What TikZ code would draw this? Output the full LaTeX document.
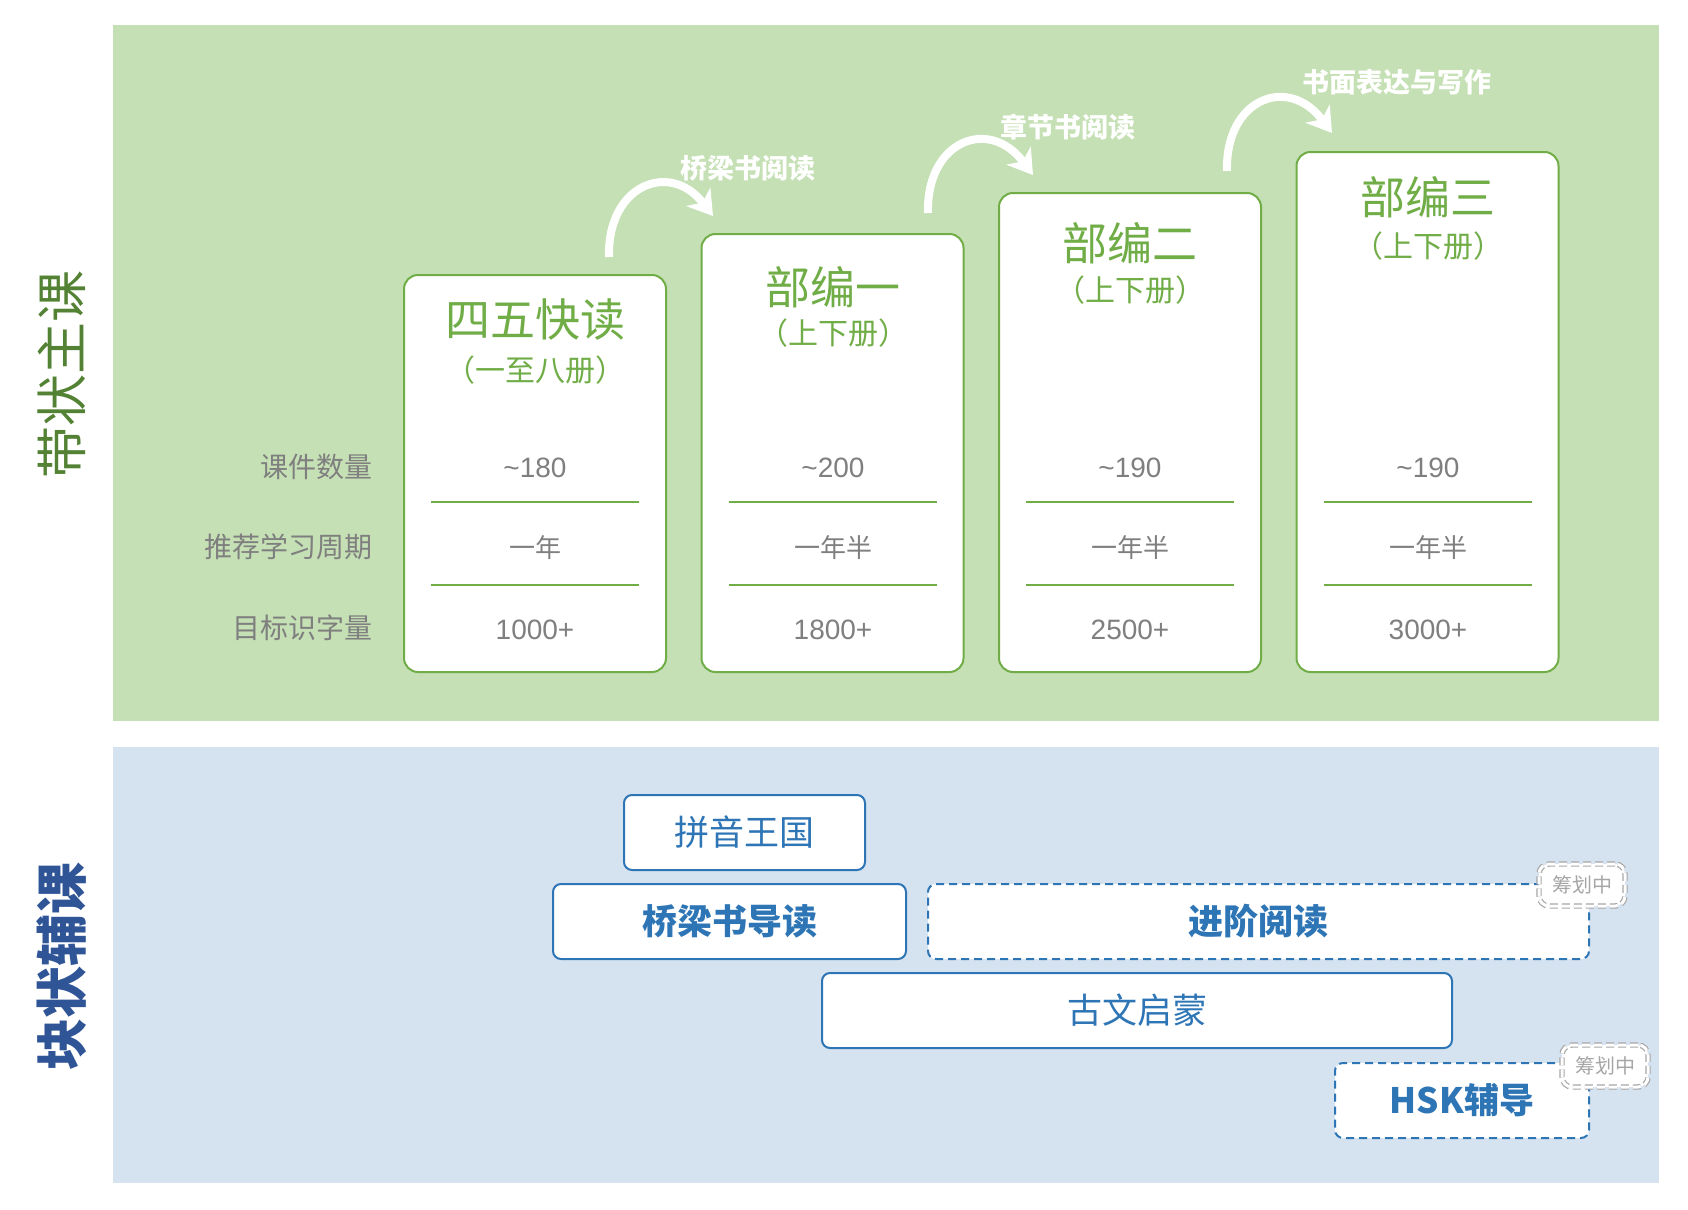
\documentclass[tikz,border=0pt]{standalone}
\usepackage{fontspec}
\setmainfont{Noto Sans CJK SC}
\newfontfamily\numfont{Liberation Sans}
\usepackage{tikz}
\usetikzlibrary{arrows.meta,positioning}

\definecolor{bandgreen}{HTML}{C5E0B4}
\definecolor{cardgreen}{HTML}{70AD47}
\definecolor{darkgreen}{HTML}{548235}
\definecolor{bandblue}{HTML}{D5E2F0}
\definecolor{boxblue}{HTML}{2E75B6}
\definecolor{darkblue}{HTML}{2F5597}
\definecolor{textgray}{HTML}{7F7F7F}
\definecolor{taggray}{HTML}{A6A6A6}

\begin{document}
\begin{tikzpicture}[
    x=0.5pt, y=-0.5pt,
    card/.style={draw=cardgreen, line width=1pt, fill=white, rounded corners=7pt, minimum width=131pt, anchor=south, inner sep=0pt},
    booktitle/.style={text=cardgreen, font=\fontsize{22.5pt}{24pt}\selectfont},
    booksub/.style={text=cardgreen, font=\fontsize{15pt}{17pt}\selectfont},
    rowlabel/.style={text=textgray, anchor=east, inner sep=0pt, font=\fontsize{14pt}{16pt}\selectfont},
    cellval/.style={text=textgray, font=\fontsize{13pt}{15pt}\selectfont},
    numval/.style={text=textgray, font=\numfont\fontsize{14pt}{16pt}\selectfont},
    sep/.style={draw=cardgreen, line width=0.7pt},
    flow/.style={draw=white, line width=4pt, -{Stealth[length=12pt, width=15pt, inset=3.5pt]}},
    steplabel/.style={text=white, anchor=west, inner sep=0pt, font=\bfseries\fontsize{13.5pt}{15pt}\selectfont},
    course/.style={draw=boxblue, line width=1pt, fill=white, rounded corners=4pt, text=boxblue, inner sep=0pt, minimum height=37.5pt, font=\fontsize{17.5pt}{19pt}\selectfont},
    boldcourse/.style={course, font=\bfseries\fontsize{17.5pt}{19pt}\selectfont},
    planned/.style={boldcourse, dash pattern=on 4pt off 2.5pt},
    tag/.style={draw=taggray, line width=0.6pt, double=white, double distance=1.5pt, dash pattern=on 4pt off 2pt, fill=white, rounded corners=5pt, text=taggray, minimum width=43pt, minimum height=21pt, inner sep=0pt, font=\fontsize{10pt}{12pt}\selectfont}
]
\useasboundingbox (0,0) rectangle (1688,1210);

% bands
\fill[bandgreen] (113,25) rectangle (1659,721);
\fill[bandblue] (113,747) rectangle (1659,1183);

\node[text=darkgreen, rotate=90, font=\fontsize{26pt}{28pt}\selectfont] (main) at (62,374) {带状主课};
\node[text=darkblue, rotate=90, font=\bfseries\fontsize{26pt}{28pt}\selectfont] (extra) at (62,966) {块状辅课};

% cards
\node[card, minimum height=198.5pt] (c1) at (535,673) {};
\node[card, minimum height=219pt] (c2) at (832.5,673) {};
\node[card, minimum height=239.5pt] (c3) at (1130,673) {};
\node[card, minimum height=260pt] (c4) at (1427.5,673) {};

\node[booktitle] (t1) at (535,320) {四五快读};
\node[booksub] (s1) at (535,370) {（一至八册）};
\node[booktitle] (t2) at (833,287) {部编一};
\node[booksub] (s2) at (833,333) {（上下册）};
\node[booktitle] (t3) at (1130,243) {部编二};
\node[booksub] (s3) at (1130,290) {（上下册）};
\node[booktitle] (t4) at (1428,197) {部编三};
\node[booksub] (s4) at (1428,246) {（上下册）};

% rows
\node[rowlabel] (r1) at (373,467) {课件数量};
\node[rowlabel] (r2) at (373,547) {推荐学习周期};
\node[rowlabel] (r3) at (373,628) {目标识字量};

\node[numval] (v11) at (535,468) {\textasciitilde180};
\node[cellval] (v12) at (535,548) {一年};
\node[numval] (v13) at (535,630) {1000+};
\node[numval] (v21) at (833,468) {\textasciitilde200};
\node[cellval] (v22) at (833,548) {一年半};
\node[numval] (v23) at (833,630) {1800+};
\node[numval] (v31) at (1130,468) {\textasciitilde190};
\node[cellval] (v32) at (1130,548) {一年半};
\node[numval] (v33) at (1130,630) {2500+};
\node[numval] (v41) at (1428,468) {\textasciitilde190};
\node[cellval] (v42) at (1428,548) {一年半};
\node[numval] (v43) at (1428,630) {3000+};

\draw[sep] (431,502) -- (639,502);
\draw[sep] (431,585) -- (639,585);
\draw[sep] (729,502) -- (937,502);
\draw[sep] (729,585) -- (937,585);
\draw[sep] (1026,502) -- (1234,502);
\draw[sep] (1026,585) -- (1234,585);
\draw[sep] (1324,502) -- (1532,502);
\draw[sep] (1324,585) -- (1532,585);

% steps between cards
\coordinate (a1) at (609,257);
\coordinate (b1) at (713,216);
\coordinate (a2) at (928,213);
\coordinate (b2) at (1033,175);
\coordinate (a3) at (1227,171);
\coordinate (b3) at (1332,133);
\draw[flow] (a1) .. controls (607,185) and (670,160) .. (b1);
\draw[flow] (a2) .. controls (926,141) and (989,116) .. (b2);
\draw[flow] (a3) .. controls (1225,99) and (1288,74) .. (b3);
\node[steplabel] (l1) at (680,168) {桥梁书阅读};
\node[steplabel] (l2) at (1000,127) {章节书阅读};
\node[steplabel] (l3) at (1302,82) {书面表达与写作};

% block courses
\node[course, minimum width=120.5pt] (pinyin) at (744.5,832.5) {拼音王国};
\node[boldcourse, minimum width=176.5pt] (bridge) at (729.5,921.5) {桥梁书导读};
\node[planned, minimum width=330.5pt] (adv) at (1258.5,921.5) {进阶阅读};
\node[course, minimum width=315pt] (classic) at (1137,1010.5) {古文启蒙};
\node[planned, minimum width=127pt] (hsk) at (1462,1100.5) {HSK辅导};
\node[tag] (p1) at (1582,885) {筹划中};
\node[tag] (p2) at (1605,1066) {筹划中};
\end{tikzpicture}
\end{document}
